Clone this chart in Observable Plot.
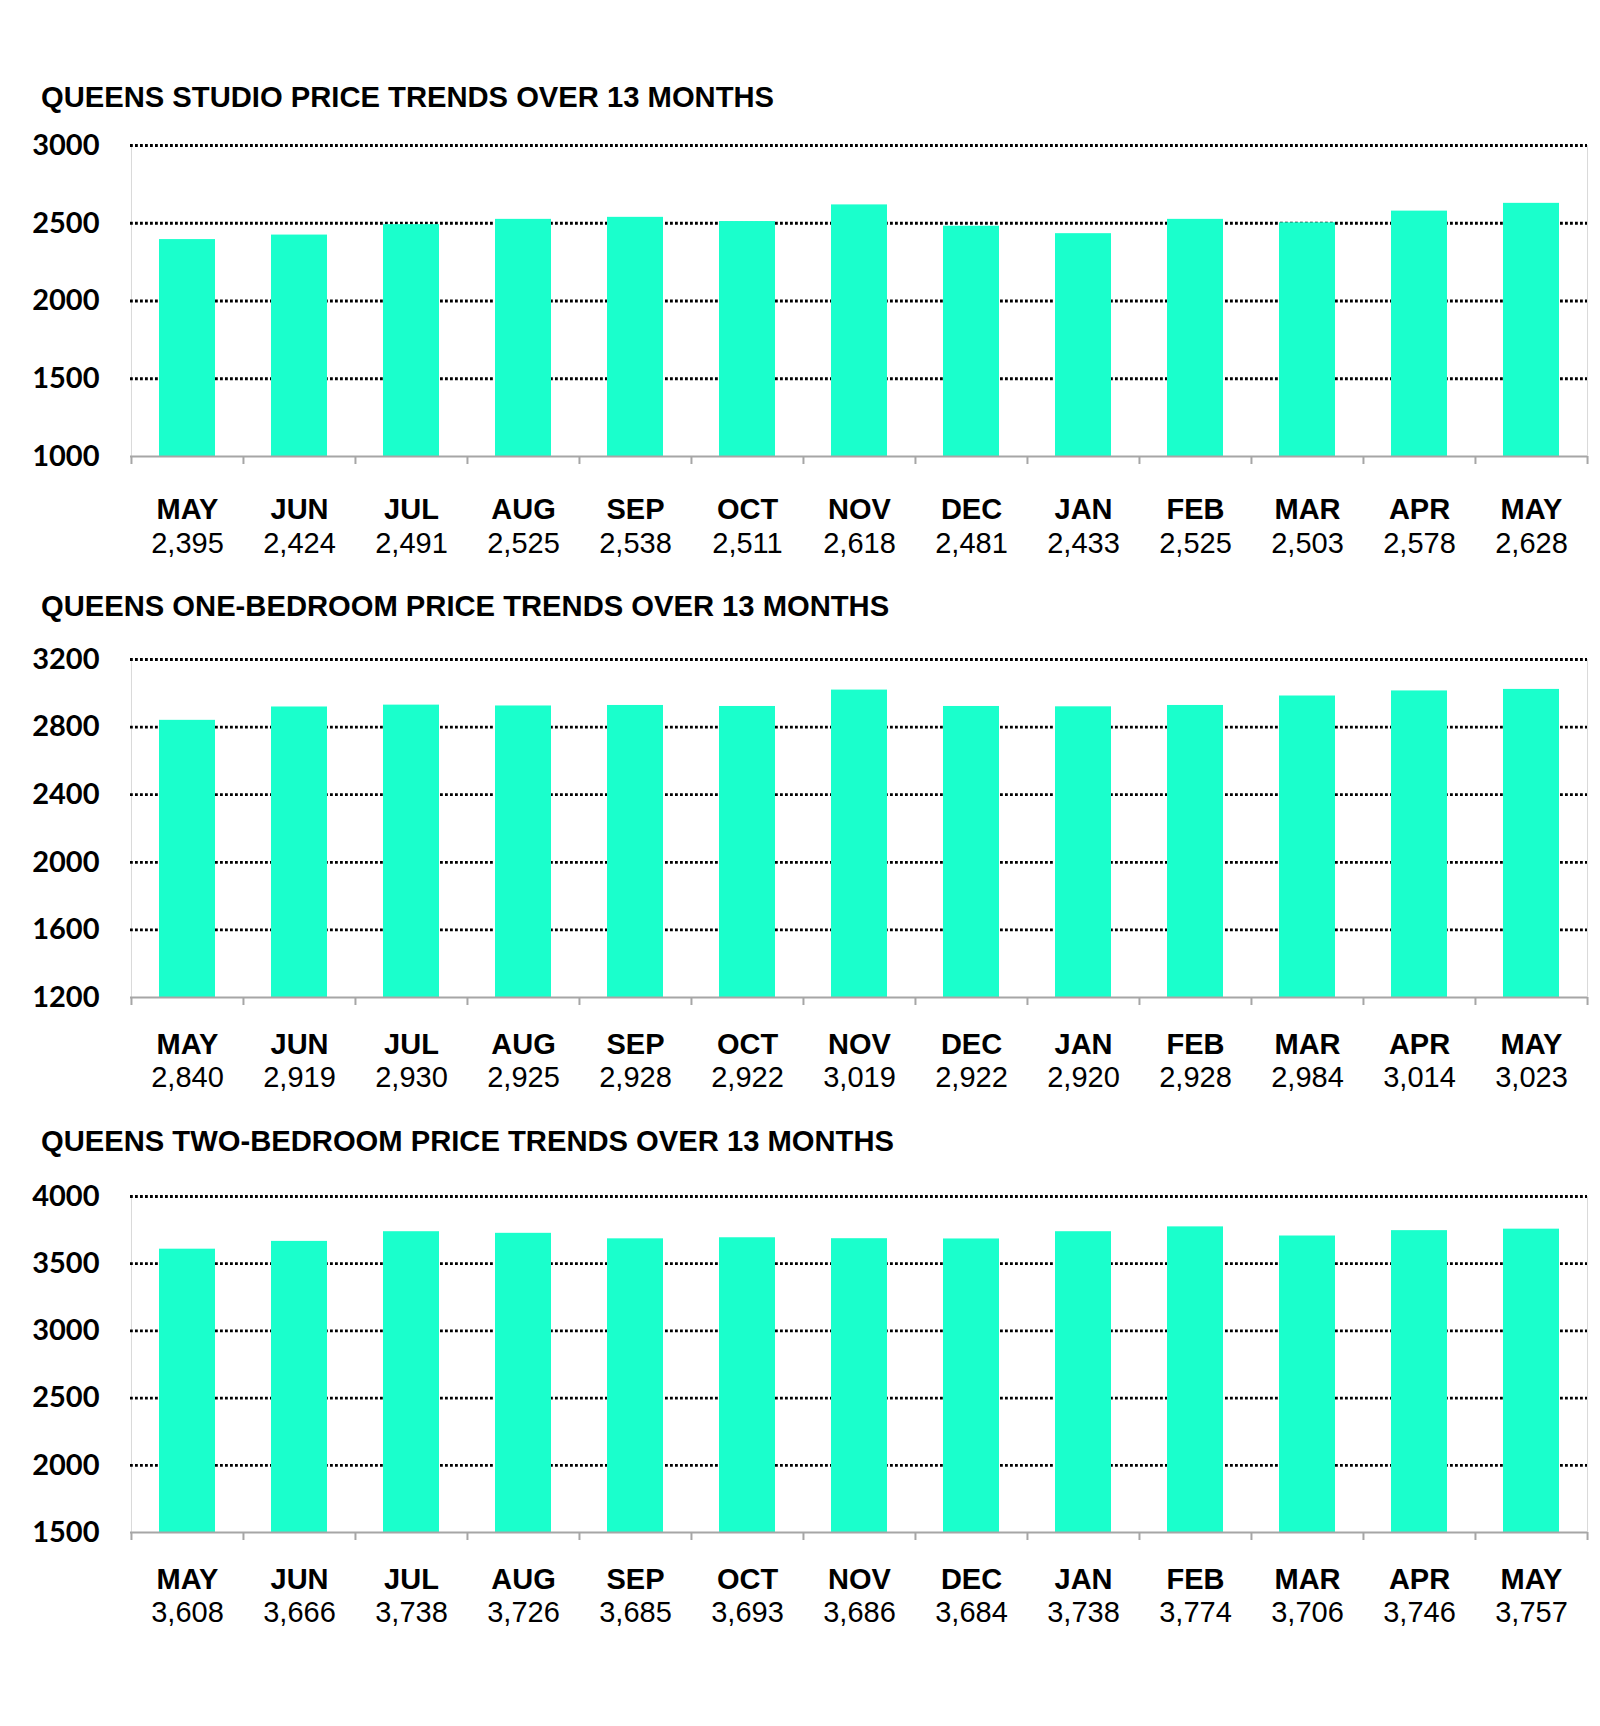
<!DOCTYPE html>
<html><head><meta charset="utf-8">
<script src="https://cdn.jsdelivr.net/npm/d3@7"></script>
<script src="https://cdn.jsdelivr.net/npm/@observablehq/plot@0.6"></script>
<style>
body{margin:0;background:#fff;}
#root{position:relative;width:1600px;height:1726px;background:#fff;}
.title{position:absolute;left:41px;font:bold 29.2px "Liberation Sans",Arial,sans-serif;line-height:29px;color:#000;white-space:nowrap;}
.chart{position:absolute;left:0;}
</style></head><body><div id="root"></div>
<script>
const months = ["MAY","JUN","JUL","AUG","SEP","OCT","NOV","DEC","JAN","FEB","MAR","APR","MAY"];
const studio = [2395,2424,2491,2525,2538,2511,2618,2481,2433,2525,2503,2578,2628];
const oneBed = [2840,2919,2930,2925,2928,2922,3019,2922,2920,2928,2984,3014,3023];
const twoBed = [3608,3666,3738,3726,3685,3693,3686,3684,3738,3774,3706,3746,3757];
const studioTicks = [1000,1500,2000,2500,3000];
const oneBedTicks = [1200,1600,2000,2400,2800,3200];
const twoBedTicks = [1500,2000,2500,3000,3500,4000];
const titles = [
  "QUEENS STUDIO PRICE TRENDS OVER 13 MONTHS",
  "QUEENS ONE-BEDROOM PRICE TRENDS OVER 13 MONTHS",
  "QUEENS TWO-BEDROOM PRICE TRENDS OVER 13 MONTHS"
];

const layouts = [
  {values: studio, ticks: studioTicks, title: titles[0], titleTop: 83, top: 120, height: 450, mt: 25, mb: 114, monthDy: 53, valueDy: 87},
  {values: oneBed, ticks: oneBedTicks, title: titles[1], titleTop: 592, top: 630, height: 470, mt: 29, mb: 103, monthDy: 47, valueDy: 80},
  {values: twoBed, ticks: twoBedTicks, title: titles[2], titleTop: 1127, top: 1170, height: 480, mt: 26, mb: 118, monthDy: 47, valueDy: 80}
];

const W = 1600, ML = 130, MR = 13;
const BAR = "#1affcc";
const SANS = "Liberation Sans, Arial, sans-serif";
const fmt = d3.format(",");
const root = document.getElementById("root");

for (const cfg of layouts) {
  const keys = months.map((m, i) => i);
  const data = months.map((m, i) => ({key: i, month: m, value: cfg.values[i]}));
  const step = (W - ML - MR) / months.length;
  const ymin = cfg.ticks[0], ymax = cfg.ticks[cfg.ticks.length - 1];
  const grid = cfg.ticks.slice(1);

  const t = document.createElement("div");
  t.className = "title";
  t.style.top = cfg.titleTop + "px";
  t.textContent = cfg.title;
  root.appendChild(t);

  const svg = Plot.plot({
    width: W, height: cfg.height,
    marginLeft: ML, marginRight: MR, marginTop: cfg.mt, marginBottom: cfg.mb,
    style: {background: "#fff", color: "#000", overflow: "visible"},
    x: {type: "band", domain: keys, paddingInner: 0.5, paddingOuter: 0.25, axis: null},
    y: {domain: [ymin, ymax]},
    marks: [
      Plot.ruleX([keys[0]], {dx: -step / 2, stroke: "#d9d9d9", strokeWidth: 1}),
      Plot.ruleX([keys[keys.length - 1]], {dx: step / 2, stroke: "#d9d9d9", strokeWidth: 1}),
      Plot.ruleY(grid, {stroke: "#000", strokeWidth: 2.8, strokeDasharray: "2.8,2.2"}),
      Plot.barY(data, {x: "key", y1: ymin, y2: "value", fill: BAR}),
      Plot.ruleY([ymin], {stroke: "#a6a6a6", strokeWidth: 2}),
      Plot.ruleX(keys, {y1: ymin, y2: ymin, insetBottom: -8, dx: -step / 2, stroke: "#a6a6a6", strokeWidth: 2}),
      Plot.ruleX([keys[keys.length - 1]], {y1: ymin, y2: ymin, insetBottom: -8, dx: step / 2, stroke: "#a6a6a6", strokeWidth: 2}),
      Plot.axisY(cfg.ticks, {tickSize: 0, tickPadding: 31, tickFormat: d => String(d), label: null,
        fontSize: 29, fontWeight: "bold", fontFamily: "Lato, sans-serif"}),
      Plot.text(data, {x: "key", y: ymin, text: "month", dy: cfg.monthDy,
        fontSize: 29, fontWeight: "bold", fontFamily: SANS, fill: "#000"}),
      Plot.text(data, {x: "key", y: ymin, text: d => fmt(d.value), dy: cfg.valueDy,
        fontSize: 29, fontFamily: SANS, fill: "#000"})
    ]
  });
  svg.classList.add("chart");
  svg.style.top = cfg.top + "px";
  root.appendChild(svg);
}
</script></body></html>
